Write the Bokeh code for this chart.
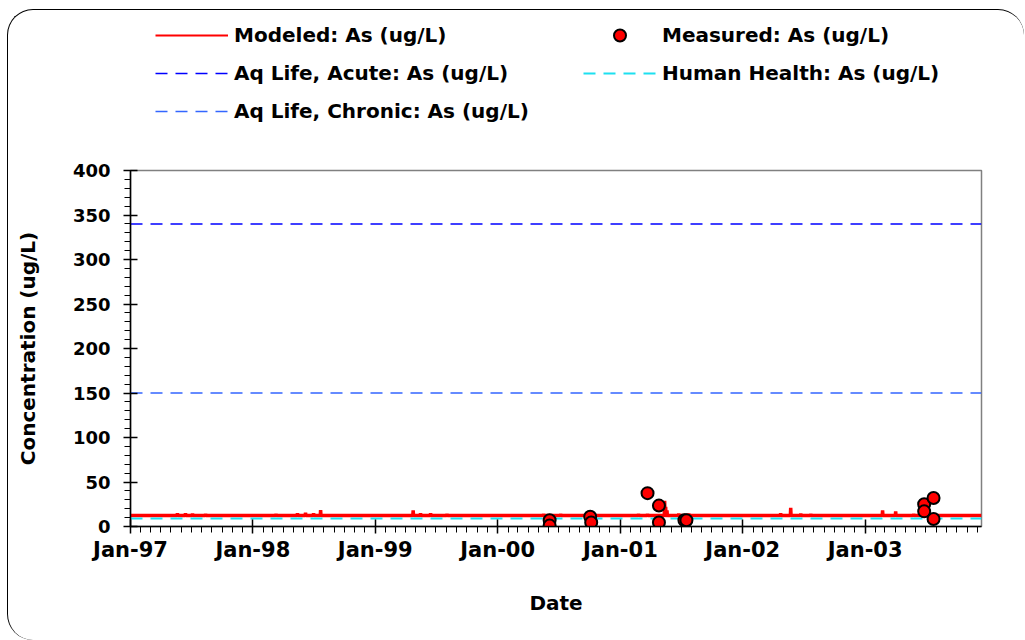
import pandas as pd
from bokeh.plotting import figure
from bokeh.layouts import column
from bokeh.models import (FixedTicker, DatetimeTickFormatter, Legend, LegendItem,
                          Range1d, ColumnDataSource)
from bokeh.embed import file_html
from bokeh.resources import INLINE

# ---- data -----------------------------------------------------------------
x_start = "1997-01-01"
x_end = "2003-12-14"

# modeled arsenic: steady baseline with short storm-event peaks
model_base = 12.5
model_peak_dates = [
    "1997-05-21", "1997-06-14", "1997-07-05", "1997-08-13",
    "1998-03-11", "1998-05-14", "1998-06-07", "1998-07-01", "1998-07-22",
    "1999-04-24", "1999-05-16", "1999-06-15", "1999-08-03",
    "2000-05-17", "2000-07-07",
    "2001-02-24", "2001-03-23", "2001-05-13", "2001-05-16", "2001-05-20",
    "2001-06-24", "2001-07-24",
    "2002-04-24", "2002-05-24", "2002-06-23", "2002-07-23",
    "2003-02-22", "2003-04-02", "2003-05-26", "2003-06-16",
]
model_peak_values = [
    15.0, 15.0, 14.5, 14.0,
    14.0, 15.0, 15.5, 15.0, 18.5,
    18.0, 15.0, 15.0, 14.0,
    14.0, 14.0,
    14.0, 14.0, 29.0, 22.0, 18.0,
    14.5, 14.5,
    15.0, 21.0, 14.5, 14.0,
    18.0, 17.0, 14.0, 14.0,
]

measured_dates = [
    "2000-06-04", "2000-06-04", "2000-10-03", "2000-10-06",
    "2001-03-23", "2001-04-26", "2001-04-26", "2001-07-11", "2001-07-17",
    "2003-06-26", "2003-07-24", "2003-06-26", "2003-07-24",
]
measured_values = [
    7.0, 1.0, 11.0, 4.5,
    37.5, 23.5, 4.5, 7.0, 7.0,
    25.0, 32.0, 17.0, 8.5,
]

acute_value = 340
chronic_value = 150
human_health_value = 9

year_ticks = ["1997-01-01", "1998-01-01", "1999-01-01", "2000-01-01",
              "2001-01-01", "2002-01-01", "2003-01-01"]
y_major_ticks = [0, 50, 100, 150, 200, 250, 300, 350, 400]
y_minor_ticks = list(range(0, 401, 10))

# ---- derived tables -------------------------------------------------------
t0 = pd.Timestamp(x_start)
t1 = pd.Timestamp(x_end)
one_day = pd.Timedelta(days=1)

mx, my = [t0], [model_base]
for d, v in zip(model_peak_dates, model_peak_values):
    d = pd.Timestamp(d)
    mx += [d - one_day, d, d + one_day]
    my += [model_base, v, model_base]
mx.append(t1)
my.append(model_base)
model_src = ColumnDataSource(dict(x=mx, y=my))

meas_src = ColumnDataSource(dict(x=pd.to_datetime(measured_dates), y=measured_values))


def to_ms(ts):
    return pd.Timestamp(ts).value / 1e6


year_ms = [to_ms(t) for t in year_ticks]
month_ms = [to_ms(t) for t in pd.date_range("1997-01-01", "2003-12-01", freq="MS")]

FONT = "DejaVu Sans"
RED = "#FF0000"
ACUTE_BLUE = "#0000FF"
CHRONIC_BLUE = "#3366FF"
CYAN = "#1CE0F0"
DASH = "12 8"

# ---- legend strip -----------------------------------------------------------
# its frame lines up with the chart frame below; the sample glyphs sit
# outside the strip's ranges so only their legend entries show
leg_fig = figure(width=1016, height=150, x_range=Range1d(0, 1), y_range=Range1d(0, 1),
                 output_backend="svg", toolbar_location=None,
                 min_border_left=122, min_border_right=43,
                 min_border_top=0, min_border_bottom=0)
leg_fig.axis.visible = False
leg_fig.grid.visible = False
leg_fig.outline_line_color = None
leg_fig.background_fill_color = None
leg_fig.border_fill_color = None

off = [5, 6]
lg_model = leg_fig.line(off, off, line_color=RED, line_width=2)
lg_acute = leg_fig.line(off, off, line_color=ACUTE_BLUE, line_width=1.5, line_dash=DASH)
lg_chronic = leg_fig.line(off, off, line_color=CHRONIC_BLUE, line_width=1.5, line_dash=DASH)
lg_meas = leg_fig.scatter(off, off, size=10, fill_color=RED, line_color="black", line_width=2)
lg_hh = leg_fig.line(off, off, line_color=CYAN, line_width=2, line_dash=DASH)

legend_style = dict(glyph_width=73, glyph_height=30, label_height=30, spacing=8,
                    padding=0, margin=0, label_standoff=6,
                    label_text_font=FONT, label_text_font_style="bold",
                    label_text_font_size="20px", label_text_color="black",
                    border_line_color=None, background_fill_alpha=0)
leg1 = Legend(items=[LegendItem(label="Modeled: As (ug/L)", renderers=[lg_model]),
                     LegendItem(label="Aq Life, Acute: As (ug/L)", renderers=[lg_acute]),
                     LegendItem(label="Aq Life, Chronic: As (ug/L)", renderers=[lg_chronic])],
              location=(25, 34), **legend_style)
leg2 = Legend(items=[LegendItem(label="Measured: As (ug/L)", renderers=[lg_meas]),
                     LegendItem(label="Human Health: As (ug/L)", renderers=[lg_hh])],
              location=(453, 72), **legend_style)
leg_fig.add_layout(leg1, "center")
leg_fig.add_layout(leg2, "center")

# ---- chart ------------------------------------------------------------------
p = figure(width=1016, height=480, x_axis_type="datetime",
           x_range=Range1d(t0, t1), y_range=Range1d(0, 400),
           output_backend="svg", toolbar_location=None,
           min_border_left=122, min_border_right=43,
           min_border_top=10, min_border_bottom=114)
p.xgrid.visible = False
p.ygrid.visible = False
p.outline_line_color = "#808080"
p.outline_line_width = 1.5
p.background_fill_color = "white"
p.border_fill_color = None

# criteria lines
p.line([t0, t1], [acute_value, acute_value], line_color=ACUTE_BLUE,
       line_width=1.5, line_dash=DASH)
p.line([t0, t1], [chronic_value, chronic_value], line_color=CHRONIC_BLUE,
       line_width=1.5, line_dash=DASH)

# modeled concentration, human-health criterion, measured samples
p.line("x", "y", source=model_src, line_color=RED, line_width=3.5)
p.line([t0, t1], [human_health_value, human_health_value], line_color=CYAN,
       line_width=2, line_dash=DASH)
p.scatter("x", "y", source=meas_src, size=12, fill_color=RED,
          line_color="black", line_width=2)

# axes
for ax in (p.xaxis[0], p.yaxis[0]):
    ax.axis_line_color = "black"
    ax.axis_line_width = 1.5
    ax.major_tick_line_color = "black"
    ax.minor_tick_line_color = "black"
    ax.major_tick_line_width = 1.5
    ax.minor_tick_line_width = 1
    ax.major_tick_in = 7
    ax.major_tick_out = 7
    ax.minor_tick_in = 0
    ax.minor_tick_out = 6
    ax.major_label_text_font = FONT
    ax.major_label_text_font_style = "bold"
    ax.major_label_text_color = "black"
    ax.axis_label_text_font = FONT
    ax.axis_label_text_font_style = "bold"
    ax.axis_label_text_color = "black"
    ax.axis_label_text_font_size = "20px"

p.xaxis.ticker = FixedTicker(ticks=year_ms, minor_ticks=month_ms)
fmt = "%b-%y"
p.xaxis.formatter = DatetimeTickFormatter(years=fmt, months=fmt, days=fmt,
                                          hours=fmt, minutes=fmt, seconds=fmt)
p.xaxis.major_label_text_font_size = "21px"
p.xaxis.major_label_standoff = 4
p.xaxis.axis_label = "Date"
p.xaxis.axis_label_standoff = 26

p.yaxis.ticker = FixedTicker(ticks=y_major_ticks, minor_ticks=y_minor_ticks)
p.yaxis.major_label_text_font_size = "18px"
p.yaxis.major_label_standoff = 13
p.yaxis.axis_label = "Concentration (ug/L)"
p.yaxis.axis_label_standoff = 30

# rounded chart-area frame around the whole page content
layout = column(leg_fig, p, spacing=0,
                styles={"margin-left": "7px", "margin-top": "9px",
                        "border-top": "1.5px solid black",
                        "border-left": "1.5px solid black",
                        "border-radius": "26px",
                        "background-color": "white"})

open("out.html", "w").write(file_html(layout, INLINE))
